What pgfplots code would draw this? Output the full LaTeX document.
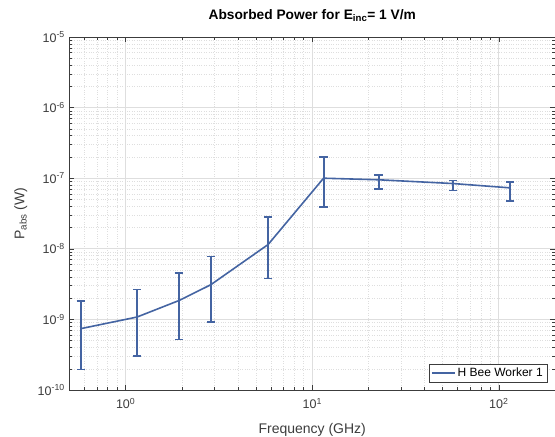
\documentclass[border=0pt]{standalone}
\usepackage{fontspec}
\setmainfont{Liberation Sans}
\usepackage{pgfplots}
\pgfplotsset{compat=1.18}
\definecolor{lineblue}{RGB}{68,100,162}
\definecolor{axgray}{RGB}{60,60,60}
\definecolor{majgrid}{RGB}{222,222,222}
\definecolor{mingrid}{RGB}{222,222,222}
\begin{document}
\begin{tikzpicture}
\begin{axis}[
  name=ax,
  scale only axis, width=485.5pt, height=353pt,
  xmode=log, ymode=log,
  xmin=0.5, xmax=200, ymin=1e-10, ymax=1e-5,
  xtick={1,10,100},
  xticklabels={10\textsuperscript{0},10\textsuperscript{1},10\textsuperscript{2}},
  ytick={1e-10,1e-9,1e-8,1e-7,1e-6,1e-5},
  yticklabels={10\textsuperscript{-10},10\textsuperscript{-9},10\textsuperscript{-8},10\textsuperscript{-7},10\textsuperscript{-6},10\textsuperscript{-5}},
  minor xtick={0.6,0.7,0.8,0.9,2,3,4,5,6,7,8,9,20,30,40,50,60,70,80,90,200},
  minor ytick={2e-10,3e-10,4e-10,5e-10,6e-10,7e-10,8e-10,9e-10,
               2e-9,3e-9,4e-9,5e-9,6e-9,7e-9,8e-9,9e-9,
               2e-8,3e-8,4e-8,5e-8,6e-8,7e-8,8e-8,9e-8,
               2e-7,3e-7,4e-7,5e-7,6e-7,7e-7,8e-7,9e-7,
               2e-6,3e-6,4e-6,5e-6,6e-6,7e-6,8e-6,9e-6},
  grid=both,
  major grid style={color=majgrid, line width=0.9pt},
  minor grid style={color=mingrid, dotted, line width=0.5pt},
  axis line style={axgray, line width=0.6pt},
  tick style={axgray, line width=0.5pt},
  major tick length=5pt, minor tick length=3pt,
  tick align=inside,
  ticklabel style={font=\fontsize{12.5}{14}\selectfont, text=axgray},
  xticklabel style={inner sep=0pt}, xticklabel shift=8pt,
  yticklabel style={inner sep=0pt}, yticklabel shift=4.5pt,
  title={\bfseries Absorbed Power for E\textsubscript{inc}= 1 V/m},
  title style={font=\fontsize{13.75}{15}\selectfont, at={([yshift=12pt]axis description cs:0.5,1)}, anchor=base, inner sep=0pt},
  xlabel={Frequency (GHz)},
  xlabel style={font=\fontsize{14}{16}\selectfont, text=axgray, at={([yshift=-33.5pt]axis description cs:0.5,0)}, anchor=north, inner sep=0pt},
  ylabel={P\textsubscript{abs} (W)},
  ylabel style={font=\fontsize{14}{16}\selectfont, text=axgray, at={([xshift=-42pt]axis description cs:0,0.5)}, anchor=south, inner sep=0pt},
  legend style={at={(axis description cs:1,0)}, anchor=south east, xshift=-8pt, yshift=8pt, draw=axgray, line width=0.5pt, fill=white, font=\fontsize{12}{13}\selectfont, inner xsep=2pt, inner ysep=1.5pt},
  legend image code/.code={\draw[#1] (0pt,0pt) -- (23pt,0pt);},
  legend cell align=left,
]
\addplot[color=lineblue, line width=1.6pt, mark=none,
  error bars/.cd, y dir=both, y explicit,
  error bar style={line width=2pt, color=lineblue, solid},
  error mark=-,
  error mark options={line width=1.8pt, color=lineblue, mark size=4.2pt, rotate=90, solid}]
coordinates {
(0.575,7.4e-10) += (0,1.06e-9) -= (0,5.45e-10)
(1.15,1.08e-9) += (0,1.57e-9) -= (0,7.8e-10)
(1.93,1.85e-9) += (0,2.75e-9) -= (0,1.33e-9)
(2.86,3.1e-9) += (0,4.7e-9) -= (0,2.17e-9)
(5.8,1.15e-8) += (0,1.65e-8) -= (0,7.7e-9)
(11.5,1.0e-7) += (0,9.8e-8) -= (0,6.1e-8)
(22.7,9.5e-8) += (0,1.7e-8) -= (0,2.5e-8)
(57,8.4e-8) += (0,9e-9) -= (0,1.7e-8)
(115,7.3e-8) += (0,1.6e-8) -= (0,2.5e-8)
};
\addlegendentry{H Bee Worker 1}
\end{axis}
\pgfresetboundingbox
\path[use as bounding box] ([xshift=-69.5pt,yshift=-47pt]ax.south west) rectangle ([yshift=37pt]ax.north east);
\end{tikzpicture}
\end{document}
